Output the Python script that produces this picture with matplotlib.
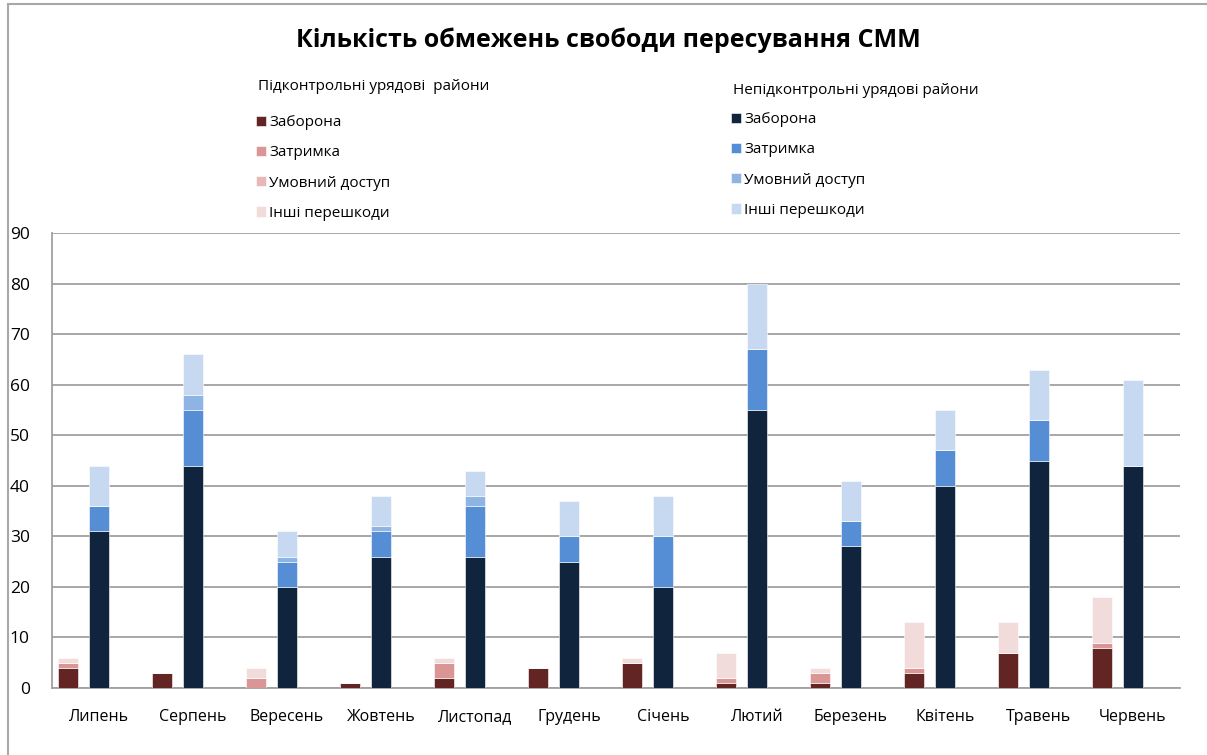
import numpy as np
import matplotlib
matplotlib.use("Agg")
import matplotlib.pyplot as plt
from matplotlib.patches import Rectangle

plt.rcParams['font.family'] = ['Open Sans', 'DejaVu Sans']

months = ['Липень', 'Серпень', 'Вересень', 'Жовтень', 'Листопад', 'Грудень',
          'Січень', 'Лютий', 'Березень', 'Квітень', 'Травень', 'Червень']
kinds = ['Заборона', 'Затримка', 'Умовний доступ', 'Інші перешкоди']

# підконтрольні урядові райони
gov_ban = [4, 3, 0, 1, 2, 4, 5, 1, 1, 3, 7, 8]
gov_delay = [1, 0, 2, 0, 3, 0, 0, 1, 2, 1, 0, 1]
gov_cond = [0, 0, 0, 0, 0, 0, 0, 0, 0, 0, 0, 0]
gov_other = [1, 0, 2, 0, 1, 0, 1, 5, 1, 9, 6, 9]

# непідконтрольні урядові райони
ng_ban = [31, 44, 20, 26, 26, 25, 20, 55, 28, 40, 45, 44]
ng_delay = [5, 11, 5, 5, 10, 5, 10, 12, 5, 7, 8, 0]
ng_cond = [0, 3, 1, 1, 2, 0, 0, 0, 0, 0, 0, 0]
ng_other = [8, 8, 5, 6, 5, 7, 8, 13, 8, 8, 10, 17]

gov_colors = ['#632523', '#D99694', '#E6B9B8', '#F2DCDB']
ng_colors = ['#10243E', '#558ED5', '#8EB4E3', '#C6D9F1']

fig = plt.figure(figsize=(12.07, 7.55), dpi=100)
ax = fig.add_axes([0.0431, 0.0887, 0.9345, 0.6026])

x = np.arange(len(months))
w = 0.21

def stack(xpos, series, colors):
    bottom = np.zeros(len(months))
    handles = []
    for vals, c in zip(series, colors):
        h = ax.bar(xpos, vals, w, bottom=bottom, color=c,
                   edgecolor='white', linewidth=0.4, zorder=3)
        handles.append(h)
        bottom += np.array(vals)
    return handles

gh = stack(x - 0.33, [gov_ban, gov_delay, gov_cond, gov_other], gov_colors)
nh = stack(x, [ng_ban, ng_delay, ng_cond, ng_other], ng_colors)

ax.set_xlim(-0.5, 11.5)
ax.set_ylim(0, 90)
ax.set_yticks(range(0, 91, 10))
ax.set_xticks(x)
ax.set_xticklabels(months, fontsize=11.5)
ax.tick_params(axis='y', length=0, pad=16, labelsize=12.5)
ax.tick_params(axis='x', length=0, pad=15)
ax.grid(axis='y', color='#A0A0A0', linewidth=1.3, zorder=0)
for s in ['top', 'right']:
    ax.spines[s].set_visible(False)
for s in ['left', 'bottom']:
    ax.spines[s].set_color('#A0A0A0')
    ax.spines[s].set_linewidth(1.3)

fig.text(0.504, 0.947, 'Кількість обмежень свободи пересування СММ',
         ha='center', va='center', fontsize=18, fontweight='bold')

leg_kw = dict(frameon=False, fontsize=11, handlelength=0.65, handleheight=0.65,
              handletextpad=0.2, labelspacing=1.0, borderaxespad=0, borderpad=0)
fig.text(258 / 1207, 1 - 87 / 755, 'Підконтрольні урядові  райони',
         ha='left', va='center', fontsize=11)
fig.text(733 / 1207, 1 - 90 / 755, 'Непідконтрольні урядові райони',
         ha='left', va='center', fontsize=11)
l1 = fig.legend(gh, kinds, loc='upper left',
                bbox_to_anchor=(256 / 1207, 1 - 115 / 755), **leg_kw)
l2 = fig.legend(nh, kinds, loc='upper left',
                bbox_to_anchor=(731 / 1207, 1 - 112 / 755), **leg_kw)

# рамка області діаграми
fig.patches.append(Rectangle((8 / 1207, -0.05), 1.2, 1 - 4 / 755 + 0.05,
                             transform=fig.transFigure, fill=False,
                             edgecolor='#A8A8A8', linewidth=1.5))

fig.savefig('out.png', dpi=100)
